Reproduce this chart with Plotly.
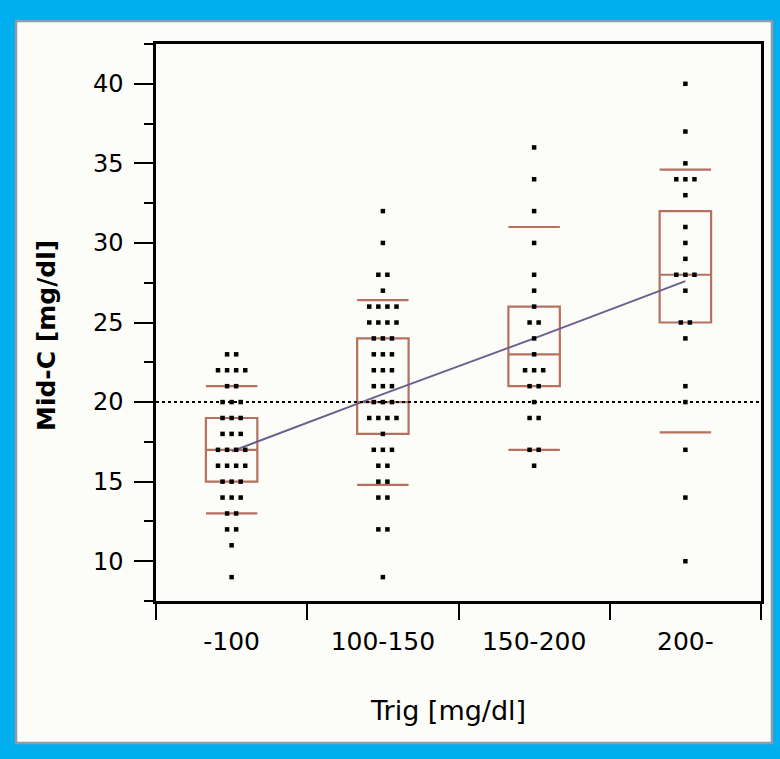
import plotly.graph_objects as go
from collections import Counter

# ---------------- data ----------------
categories = ["-100", "100-150", "150-200", "200-"]

g0_values = [23, 23, 22, 22, 22, 22, 21, 21, 20, 20, 20, 19, 19, 19, 18, 18, 18,
             17, 17, 17, 17, 16, 16, 16, 16, 15, 15, 15, 14, 14, 14, 13, 13,
             12, 12, 11, 9]
g1_values = [32, 30, 28, 28, 27, 26, 26, 26, 26, 25, 25, 25, 25, 24, 24, 24,
             23, 23, 23, 22, 22, 22, 21, 21, 21, 20, 20, 20, 19, 19, 19, 19,
             18, 17, 17, 17, 16, 16, 15, 15, 14, 14, 12, 12, 9]
g2_values = [36, 34, 32, 30, 28, 27, 26, 25, 25, 24, 23, 22, 22, 22, 21, 21,
             20, 19, 19, 17, 17, 16]
g3_values = [40, 37, 35, 34, 34, 34, 33, 31, 30, 29, 28, 28, 28, 27, 25, 25,
             24, 21, 20, 17, 14, 10]

q1_values = [15, 18, 21, 25]
median_values = [17, 20, 23, 28]
q3_values = [19, 24, 26, 32]
p10_values = [13, 14.8, 17, 18.1]
p90_values = [21, 26.4, 31, 34.6]
mean_values = [16.9, 20.5, 24.0, 27.6]
ref_level = 20

y_range = [7.5, 42.5]
y_major = [10, 15, 20, 25, 30, 35, 40]

# ---------------- styling ----------------
W, H = 780, 759
ML, MR, MT, MB = 156, 19, 44, 158
BOX_COLOR = "#B5705E"
MEAN_COLOR = "#6C5F8E"
BLUE = "#00AEEF"
FONT = "DejaVu Sans"
BOX_W = 0.34
DOT_STEP = 0.06

groups = [g0_values, g1_values, g2_values, g3_values]

fig = go.Figure()

# quantile boxes (no whiskers)
fig.add_trace(go.Box(
    x=list(range(len(categories))),
    q1=q1_values, median=median_values, q3=q3_values,
    lowerfence=q1_values, upperfence=q3_values,
    width=BOX_W, whiskerwidth=0,
    fillcolor="rgba(0,0,0,0)",
    line=dict(color=BOX_COLOR, width=2.2),
    boxpoints=False, hoverinfo="skip", showlegend=False,
))

# 10th / 90th percentile bars
px, py = [], []
for i in range(len(categories)):
    for v in (p10_values[i], p90_values[i]):
        px += [i - BOX_W / 2, i + BOX_W / 2, None]
        py += [v, v, None]
fig.add_trace(go.Scatter(x=px, y=py, mode="lines",
                         line=dict(color=BOX_COLOR, width=2.2),
                         hoverinfo="skip", showlegend=False))

# mean line
fig.add_trace(go.Scatter(x=list(range(len(categories))), y=mean_values,
                         mode="lines", line=dict(color=MEAN_COLOR, width=2),
                         hoverinfo="skip", showlegend=False))

# reference level
fig.add_hline(y=ref_level, line=dict(color="black", width=2, dash="dot"))

# points (duplicates placed side by side)
xs, ys = [], []
for i, vals in enumerate(groups):
    counts = Counter(vals)
    seen = Counter()
    for v in vals:
        n = counts[v]
        k = seen[v]
        seen[v] += 1
        xs.append(i + (k - (n - 1) / 2) * DOT_STEP)
        ys.append(v)
fig.add_trace(go.Scatter(x=xs, y=ys, mode="markers",
                         marker=dict(symbol="square", size=4.5, color="black",
                                     line=dict(width=0)),
                         hoverinfo="skip", showlegend=False))

# ---------------- frame decoration ----------------
pw, ph = W - ML - MR, H - MT - MB


def px2paper_x(p):
    return (p - ML) / pw


def px2paper_y(p):
    return (H - MB - p) / ph


shapes = [
    dict(type="rect", xref="paper", yref="paper", layer="below",
         x0=px2paper_x(8), x1=px2paper_x(776), y0=px2paper_y(757), y1=px2paper_y(13),
         fillcolor="#F3F9FC", line=dict(width=0)),
    dict(type="rect", xref="paper", yref="paper", layer="below",
         x0=px2paper_x(16), x1=px2paper_x(772), y0=px2paper_y(743), y1=px2paper_y(21),
         fillcolor="#FCFCF9", line=dict(color="#8E9CA8", width=2.5)),
]

fig.update_layout(
    width=W, height=H,
    margin=dict(l=ML, r=MR, t=MT, b=MB, pad=0),
    paper_bgcolor=BLUE,
    plot_bgcolor="#FCFCF9",
    shapes=shapes + list(fig.layout.shapes),
    showlegend=False,
    font=dict(family=FONT, color="black", size=22),
    annotations=[
        dict(text="Trig [mg/dl]", xref="paper", yref="paper",
             x=px2paper_x(448), y=px2paper_y(710), showarrow=False,
             font=dict(family=FONT, size=27, color="black"),
             xanchor="center", yanchor="middle"),
        dict(text="<b>Mid-C [mg/dl]</b>", xref="paper", yref="paper",
             x=px2paper_x(46), y=px2paper_y(336), showarrow=False,
             textangle=-90,
             font=dict(family=FONT, size=25, color="black"),
             xanchor="center", yanchor="middle"),
    ],
)

fig.update_xaxes(
    range=[-0.5, len(categories) - 0.5],
    tickmode="array", tickvals=list(range(len(categories))), ticktext=categories,
    ticks="", showgrid=False, zeroline=False,
    showline=True, linecolor="black", linewidth=2.5, mirror=True,
    tickfont=dict(family=FONT, size=25, color="black"),
    ticklabelstandoff=16,
    minor=dict(ticks="outside", tickmode="array",
               tickvals=[i - 0.5 for i in range(len(categories) + 1)],
               ticklen=16, tickwidth=2, tickcolor="black", showgrid=False),
)

fig.update_yaxes(
    range=y_range,
    tickmode="array", tickvals=y_major,
    ticks="outside", ticklen=19, tickwidth=2, tickcolor="black",
    showgrid=False, zeroline=False,
    showline=True, linecolor="black", linewidth=2.5, mirror=True,
    tickfont=dict(family=FONT, size=24, color="black"),
    ticklabelstandoff=6,
    minor=dict(ticks="outside", tick0=0, dtick=2.5, ticklen=9, tickwidth=2,
               tickcolor="black", showgrid=False),
)

fig.write_html("out.html")
